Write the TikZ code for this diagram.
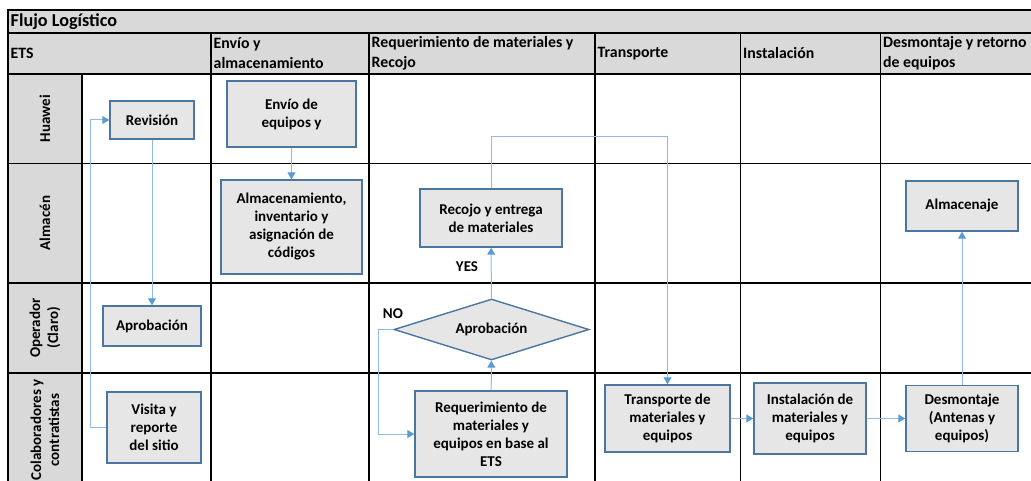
\documentclass[tikz,border=0pt]{standalone}
\usepackage{fontspec}
\setmainfont{Carlito}
\usetikzlibrary{arrows.meta,shapes.geometric}
\definecolor{celda}{HTML}{D9D9D9}
\definecolor{caja}{HTML}{E6E6E6}
\definecolor{borde}{HTML}{4A76A0}
\definecolor{linea}{HTML}{90BAE4}
\definecolor{flecha}{HTML}{5B9BD5}
\begin{document}
\begin{tikzpicture}[x=1pt,y=-1pt,
    font=\bfseries\fontsize{15}{18}\selectfont,
    paso/.style={draw=borde,line width=1.4pt,fill=caja,align=center,inner sep=0pt},
    decision/.style={paso,diamond,aspect=3.2},
    flujo/.style={draw=linea,line width=1pt,-{Triangle[length=7pt,width=8pt,color=flecha]}},
    carril/.style={rotate=90,align=center},
    cabecera/.style={anchor=west,align=left,inner sep=2.5pt,
      font=\bfseries\fontsize{15.8}{20}\selectfont},
    rejilla/.style={line width=1.1pt}]
  \useasboundingbox (0,0) rectangle (1031,481);
  \clip (0,0) rectangle (1031,481);
  \fill[celda] (8,10) rectangle (1040,74);
  \fill[celda] (8,74) rectangle (82,490);
  \draw[rejilla] (8,490) -- (8,10) -- (1040,10);
  \draw[rejilla] (8,33) -- (1040,33) (8,74) -- (1040,74) (8,163.5) -- (1040,163.5)
    (8,283) -- (1040,283) (8,373) -- (1040,373);
  \draw[rejilla] (82,74) -- (82,490) (211,33) -- (211,490) (369,33) -- (369,490)
    (595,33) -- (595,490) (740.5,33) -- (740.5,490) (880.5,33) -- (880.5,490);

  \node[anchor=west,inner sep=2.5pt,font=\bfseries\fontsize{18.2}{21}\selectfont]
    (titulo) at (8,21.5) {Flujo Logístico};
  \node[cabecera] (hEts)    at (8,53.5)   {ETS};
  \node[cabecera] (hEnvio)  at (211,53.5) {Envío y\\almacenamiento};
  \node[cabecera] (hReq)    at (369,53.5) {Requerimiento de materiales y\\Recojo};
  \node[cabecera] (hTransp) at (595,53.5) {Transporte};
  \node[cabecera] (hInstal) at (740.5,53.5) {Instalación};
  \node[cabecera] (hDesm)   at (880.5,53.5) {Desmontaje y retorno\\de equipos};

  \node[carril] (lHuawei)  at (45,118.5) {Huawei};
  \node[carril] (lAlmacen) at (45,223)   {Almacén};
  \node[carril] (lOper)    at (45,328)   {Operador\\(Claro)};
  \node[carril] (lColab)   at (45,430)   {Colaboradores y\\contratistas};

  \node[paso,minimum width=84pt,minimum height=38pt]  (revision) at (152,120) {Revisión};
  \node[paso,minimum width=98pt,minimum height=40pt]  (aprobOp)  at (152,326) {Aprobación};
  \node[paso,minimum width=94pt,minimum height=71pt]  (visita)   at (154,427.5) {Visita y\\reporte\\del sitio};
  \node[paso,minimum width=129pt,minimum height=66pt] (envio)    at (291.5,114) {Envío de\\equipos y};
  \node[paso,minimum width=141pt,minimum height=94pt] (almac)    at (291.5,227) {Almacenamiento,\\inventario y\\asignación de\\códigos};
  \node[paso,minimum width=142pt,minimum height=58pt] (recojo)   at (491,218) {Recojo y entrega\\de materiales};
  \node[decision,minimum width=195pt,minimum height=61pt] (aprobReq) at (491.5,329.5) {Aprobación};
  \node[paso,minimum width=152pt,minimum height=86pt] (requer)   at (491,434) {Requerimiento de\\materiales y\\equipos en base al\\ETS};
  \node[paso,minimum width=125pt,minimum height=67pt] (transp)   at (667.5,418.5) {Transporte de\\materiales y\\equipos};
  \node[paso,minimum width=112pt,minimum height=71pt] (instal)   at (810,418.5) {Instalación de\\materiales y\\equipos};
  \node[paso,minimum width=112pt,minimum height=66pt] (desmont)  at (962,418.5) {Desmontaje\\(Antenas y\\equipos)};
  \node[paso,minimum width=112pt,minimum height=50pt] (almacenaje) at (962,206) {Almacenaje};

  \node (lblSi) at (467,267) {YES};
  \node (lblNo) at (393,314) {NO};

  \draw[flujo] (visita.west) -- ++(-16,0) |- (revision.west);
  \draw[flujo] (revision) -- (aprobOp);
  \draw[flujo] (envio) -- (almac);
  \draw[flujo] (requer) -- (aprobReq);
  \draw[flujo] (aprobReq) -- (recojo);
  \draw[flujo] (aprobReq.west) -- ++(-15,0) |- (requer.west);
  \draw[flujo] (recojo.north) -- ++(0,-52) -| (transp.north);
  \draw[flujo] (transp) -- (instal);
  \draw[flujo] (instal) -- (desmont);
  \draw[flujo] (desmont) -- (almacenaje);
\end{tikzpicture}
\end{document}
